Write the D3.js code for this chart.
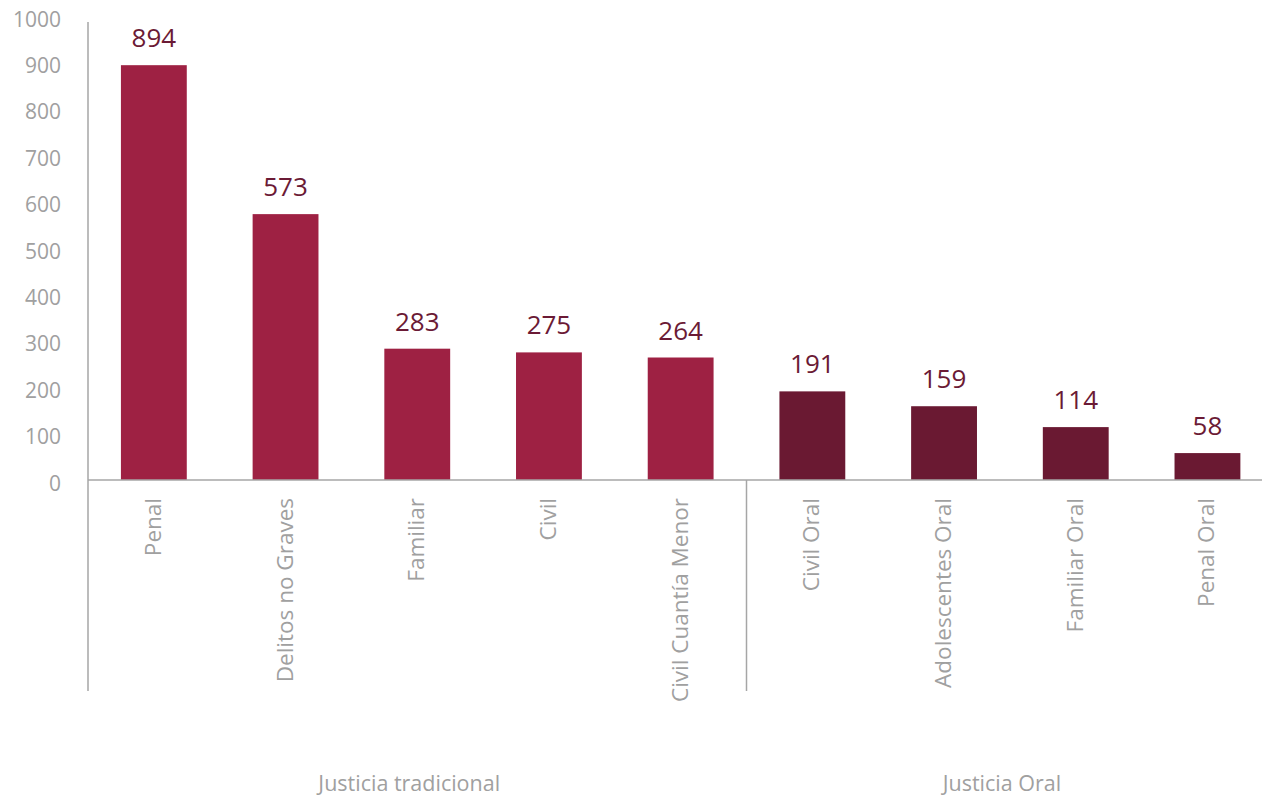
<!DOCTYPE html>
<html>
<head>
<meta charset="utf-8">
<script src="https://cdn.jsdelivr.net/npm/d3@7"></script>
<style>
  body { margin: 0; background: #fff; }
  text { font-family: "Open Sans", sans-serif; }
</style>
</head>
<body>
<div id="chart"></div>
<script>
const categories = ["Penal", "Delitos no Graves", "Familiar", "Civil", "Civil Cuantía Menor",
                    "Civil Oral", "Adolescentes Oral", "Familiar Oral", "Penal Oral"];
const values = [894, 573, 283, 275, 264, 191, 159, 114, 58];
const groups = ["Justicia tradicional", "Justicia tradicional", "Justicia tradicional", "Justicia tradicional", "Justicia tradicional",
                "Justicia Oral", "Justicia Oral", "Justicia Oral", "Justicia Oral"];
const yTicks = [0, 100, 200, 300, 400, 500, 600, 700, 800, 900, 1000];

const width = 1262, height = 799;
const x0 = 88, zeroY = 480;
const step = 131.7;

const colorMap = { "Justicia tradicional": "#9e2143", "Justicia Oral": "#6a1932" };
const grey = "#a6a6a6";

const svg = d3.select("#chart").append("svg")
    .attr("width", width).attr("height", height);

const x = d3.scaleBand().domain(categories)
    .range([x0, x0 + step * categories.length])
    .paddingInner(0.5).paddingOuter(0.25);

const y = d3.scaleLinear().domain([0, 1000]).range([zeroY, 16]);

// y axis
const yAxis = svg.append("g").attr("transform", `translate(${x0},0)`)
    .call(d3.axisLeft(y).tickValues(yTicks).tickFormat(d3.format("d")).tickSize(0).tickPadding(27));
yAxis.select(".domain").remove();
yAxis.selectAll("text")
    .attr("fill", "#a0a0a0").style("font-size", "21px")
    .attr("dy", "0.62em").attr("y", -3);

svg.append("line")
    .attr("x1", x0).attr("x2", x0).attr("y1", 22).attr("y2", 691)
    .attr("stroke", grey).attr("stroke-width", 1.5);

// bars
svg.selectAll(".bar").data(categories).enter().append("rect")
    .attr("class", "bar")
    .attr("x", d => x(d)).attr("width", x.bandwidth())
    .attr("y", (d, i) => y(values[i]))
    .attr("height", (d, i) => zeroY - y(values[i]))
    .attr("fill", (d, i) => colorMap[groups[i]]);

// value labels
svg.selectAll(".val").data(categories).enter().append("text")
    .attr("class", "val")
    .attr("x", d => x(d) + x.bandwidth() / 2)
    .attr("y", (d, i) => y(values[i]) - 18)
    .attr("text-anchor", "middle")
    .attr("fill", "#6b1a35").style("font-size", "26px")
    .text((d, i) => values[i]);

// x axis line
svg.append("line")
    .attr("x1", x0).attr("x2", width).attr("y1", zeroY).attr("y2", zeroY)
    .attr("stroke", grey).attr("stroke-width", 1.5);

// category labels
svg.selectAll(".cat").data(categories).enter().append("text")
    .attr("class", "cat")
    .attr("transform", d => `translate(${x(d) + x.bandwidth() / 2 + 7},498) rotate(-90)`)
    .attr("text-anchor", "end")
    .attr("fill", "#a0a0a0").style("font-size", "22.5px")
    .text(d => d);

// group separators and labels
const groupNames = Array.from(new Set(groups));
const groupExtent = groupNames.map(g => {
    const cats = categories.filter((c, i) => groups[i] === g);
    const start = x(cats[0]) - x.step() * x.paddingInner() / 2;
    const end = x(cats[cats.length - 1]) + x.bandwidth() + x.step() * x.paddingInner() / 2;
    return { g, start, end };
});
groupExtent.slice(1).forEach(e => {
    svg.append("line")
        .attr("x1", e.start).attr("x2", e.start).attr("y1", zeroY).attr("y2", 691)
        .attr("stroke", grey).attr("stroke-width", 1.5);
});
svg.selectAll(".grp").data(groupExtent).enter().append("text")
    .attr("class", "grp")
    .attr("x", d => (d.start + d.end) / 2 - 8)
    .attr("y", 791)
    .attr("text-anchor", "middle")
    .attr("fill", "#a0a0a0").style("font-size", "21.5px")
    .text(d => d.g);
</script>
</body>
</html>
